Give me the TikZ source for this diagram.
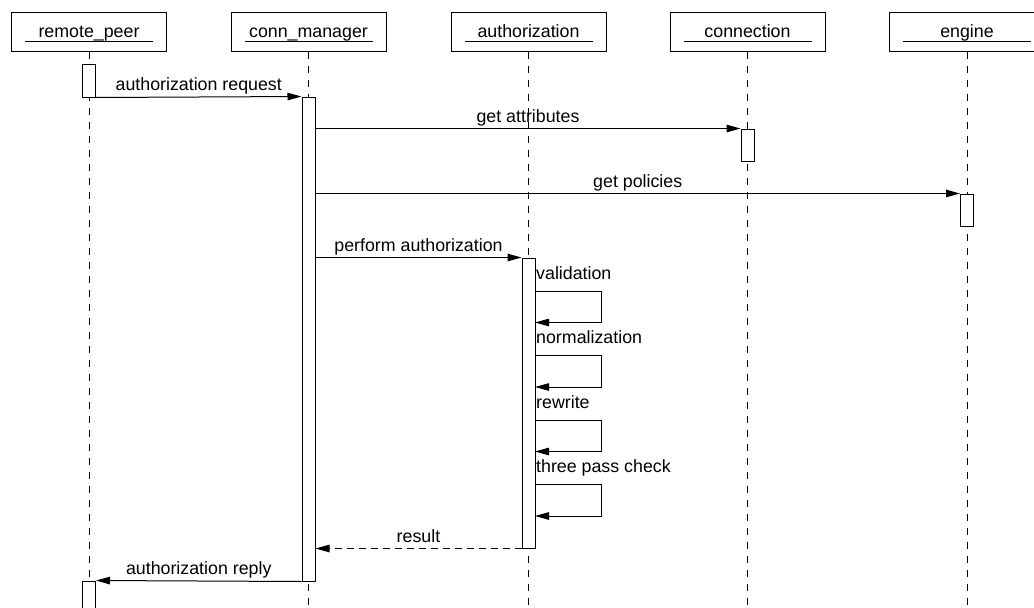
\documentclass[tikz,border=0pt]{standalone}
\usepackage{fontspec}
\setmainfont{Liberation Sans}
\usetikzlibrary{arrows.meta}
\begin{document}
\begin{tikzpicture}[x=1pt,y=-1pt,
  every node/.style={font=\fontsize{17.8}{20}\selectfont},
  hdr/.style={draw, line width=1pt, minimum width=155pt, minimum height=39pt, inner sep=0pt, text height=13pt, text depth=2pt},
  uline/.style={line width=1pt},
  life/.style={line width=1pt, dash pattern=on 7pt off 7pt},
  act/.style={draw, line width=1pt, fill=white, minimum width=13pt, inner sep=0pt},
  msg/.style={line width=1pt, -{Triangle[length=14pt,width=7.5pt]}},
  ret/.style={msg, dash pattern=on 7pt off 5pt},
  lbl/.style={anchor=base, inner sep=0pt},
  slbl/.style={anchor=base west, inner sep=0pt}]
\clip (0,0) rectangle (1034,608);
\fill[white] (0,0) rectangle (1034,608);
% headers
\node[hdr] (rp) at (89,31.5) {remote\_peer};
\node[hdr] (cm) at (308.5,31.5) {conn\_manager};
\node[hdr] (au) at (528.5,31.5) {authorization};
\node[hdr] (co) at (747.5,31.5) {connection};
\node[hdr] (en) at (967,31.5) {engine};
\foreach \n in {rp,cm,au,co,en}{
  \draw[uline] ([xshift=-64pt,yshift=-9.5pt]\n.center) -- ([xshift=64pt,yshift=-9.5pt]\n.center);
}
% lifeline ends
\coordinate (rpe) at (89,615);
\coordinate (cme) at (308.5,615);
\coordinate (aue) at (528.5,615);
\coordinate (coe) at (747.5,615);
\coordinate (ene) at (967,615);
\draw[life] (rp.south) -- (rpe);
\draw[life] (cm.south) -- (cme);
\draw[life] (au.south) -- (aue);
\draw[life] (co.south) -- (coe);
\draw[life] (en.south) -- (ene);
% activations
\node[act, minimum height=33pt] (rpa) at (89,80.5) {};
\node[act, minimum height=484pt] (cma) at (308.5,339) {};
\node[act, minimum height=32pt] (coa) at (747.5,145) {};
\node[act, minimum height=32pt] (ena) at (967,210) {};
\node[act, minimum height=290pt] (aua) at (528.5,403) {};
\node[act, minimum height=40pt] (rpb) at (89,601) {};
% messages
\draw[msg] (rpa.south east) -- node[lbl, yshift=6.5pt] (m1) {authorization request} (cma.north west);
\draw[msg] (coa.north west -| cma.east) -- node[lbl, yshift=6.5pt] (m2) {get attributes} (coa.north west);
\draw[msg] (ena.north west -| cma.east) -- node[lbl, yshift=6.5pt] (m3) {get policies} (ena.north west);
\draw[msg] (aua.north west -| cma.east) -- node[lbl, yshift=6.5pt] (m4) {perform authorization} (aua.north west);
\draw[ret] (aua.south west) -- node[lbl, yshift=6.5pt] (m5) {result} (aua.south west -| cma.east);
\draw[msg] (cma.south west) -- node[lbl, yshift=6.5pt] (m6) {authorization reply} (rpb.north east);
% self messages
\foreach \t/\txt [count=\i] in {291/validation, 355.5/normalization, 420/rewrite, 484.5/three pass check}{
  \node[slbl] (s\i) at (536,\t-12) {\txt};
  \coordinate (sa\i) at (535,\t);
  \coordinate (sb\i) at (535,\t+31.5);
  \draw[msg] (sa\i) -- ++(66,0) -- ++(0,31.5) -- (sb\i);
}
\end{tikzpicture}
\end{document}
